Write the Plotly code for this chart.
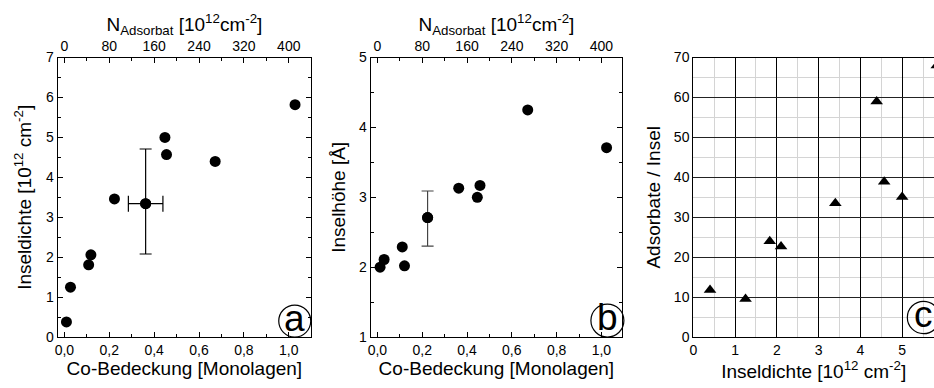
import plotly.graph_objects as go

# ---------------- data ----------------
# panel a: island density vs Co coverage
cov_a = [0.009, 0.027, 0.108, 0.118, 0.223, 0.362, 0.448, 0.455, 0.672, 1.028]
dens_a = [0.38, 1.25, 1.81, 2.06, 3.46, 3.34, 5.0, 4.57, 4.40, 5.82]
err_a_x = [None, None, None, None, None, 0.077, None, None, None, None]
err_a_yp = [None, None, None, None, None, 1.37, None, None, None, None]
err_a_ym = [None, None, None, None, None, 1.26, None, None, None, None]

# panel b: island height vs Co coverage
cov_b = [0.012, 0.030, 0.111, 0.121, 0.224, 0.363, 0.446, 0.458, 0.671, 1.023]
height_b = [2.00, 2.11, 2.29, 2.02, 2.71, 3.13, 3.00, 3.17, 4.25, 3.71]
err_b_yp = [None, None, None, None, 0.38, None, None, None, None, None]
err_b_ym = [None, None, None, None, 0.41, None, None, None, None, None]

# panel c: adsorbates per island vs island density
dens_c = [0.40, 1.25, 1.83, 2.10, 3.40, 4.39, 4.57, 5.00, 5.83]
per_island_c = [11.8, 9.5, 24.0, 22.7, 33.5, 59.0, 38.9, 35.1, 68.0]

# top axis conversion: 1 monolayer = 400e12 cm^-2
ML_TO_N = 400

bottom_ticks = [0, 0.2, 0.4, 0.6, 0.8, 1.0]
top_ticks = [0, 80, 160, 240, 320, 400]
panel_letters = ["a", "b", "c"]

FONT = "Arial, Liberation Sans, sans-serif"
W, H = 934, 388

fig = go.Figure()

def pick(vals, idx):
    return [vals[i] for i in idx]

# ---------- traces ----------
# panel a
fig.add_trace(go.Scatter(
    x=cov_a, y=dens_a, mode="markers", xaxis="x", yaxis="y",
    marker=dict(symbol="circle", size=11, color="black"), showlegend=False))
ia = [i for i, e in enumerate(err_a_yp) if e is not None]
fig.add_trace(go.Scatter(
    x=pick(cov_a, ia), y=pick(dens_a, ia), mode="markers", xaxis="x", yaxis="y",
    marker=dict(symbol="circle", size=11, color="black"),
    error_x=dict(type="data", array=pick(err_a_x, ia), color="black", thickness=1.2, width=8),
    error_y=dict(type="data", array=pick(err_a_yp, ia), arrayminus=pick(err_a_ym, ia),
                 symmetric=False, color="black", thickness=1.2, width=6),
    showlegend=False))
fig.add_trace(go.Scatter(
    x=[c * ML_TO_N for c in cov_a], y=dens_a, mode="markers", xaxis="x2", yaxis="y",
    marker=dict(opacity=0), hoverinfo="skip", showlegend=False))

# panel b
fig.add_trace(go.Scatter(
    x=cov_b, y=height_b, mode="markers", xaxis="x3", yaxis="y2",
    marker=dict(symbol="circle", size=11, color="black"), showlegend=False))
ib = [i for i, e in enumerate(err_b_yp) if e is not None]
fig.add_trace(go.Scatter(
    x=pick(cov_b, ib), y=pick(height_b, ib), mode="markers", xaxis="x3", yaxis="y2",
    marker=dict(symbol="circle", size=11, color="black"),
    error_y=dict(type="data", array=pick(err_b_yp, ib), arrayminus=pick(err_b_ym, ib),
                 symmetric=False, color="#444", thickness=1.2, width=6),
    showlegend=False))
fig.add_trace(go.Scatter(
    x=[c * ML_TO_N for c in cov_b], y=height_b, mode="markers", xaxis="x4", yaxis="y2",
    marker=dict(opacity=0), hoverinfo="skip", showlegend=False))

# panel c
fig.add_trace(go.Scatter(
    x=dens_c, y=per_island_c, mode="markers", xaxis="x5", yaxis="y3",
    marker=dict(symbol="triangle-up", size=11, color="black"),
    cliponaxis=True, showlegend=False))

# ---------- axes ----------
ydom = [1 - 343.2 / H, 1 - 51.7 / H]
dom_a = [54 / W, 308.3 / W]
dom_b = [368.3 / W, 620.7 / W]
dom_c = [692.3 / W, 1.0]

tickfont = dict(family=FONT, size=14, color="black")
titlefont = dict(family=FONT, size=19, color="black")

def bottom_axis(dom, rng, anchor):
    return dict(domain=dom, range=rng, anchor=anchor, side="bottom",
                tickvals=bottom_ticks, tickformat=".1f", ticks="inside", ticklen=5,
                tickcolor="black", tickwidth=1,
                minor=dict(dtick=0.1, tick0=0, ticks="inside", ticklen=3, tickcolor="black"),
                showline=True, linecolor="black", linewidth=1.2, mirror=False,
                showgrid=False, zeroline=False, tickfont=tickfont,
                title=dict(text="Co-Bedeckung [Monolagen]", font=titlefont, standoff=3))

def top_axis(dom, rng, anchor, over):
    return dict(domain=dom, range=rng, anchor=anchor, overlaying=over, side="top",
                tickvals=top_ticks, ticks="inside", ticklen=5, tickcolor="black",
                minor=dict(dtick=40, tick0=0, ticks="inside", ticklen=3, tickcolor="black"),
                showline=True, linecolor="black", linewidth=1.2,
                showgrid=False, zeroline=False, tickfont=tickfont,
                title=dict(text="N<sub>Adsorbat</sub> [10<sup>12</sup>cm<sup>-2</sup>]",
                           font=titlefont, standoff=1))

rng_a = [-0.0297, 1.099]
rng_b = [-0.0298, 1.092]

fig.update_layout(
    xaxis=bottom_axis(dom_a, rng_a, "y"),
    xaxis2=top_axis(dom_a, [r * ML_TO_N for r in rng_a], "y", "x"),
    yaxis=dict(domain=ydom, range=[0, 7], anchor="x", dtick=1, ticks="inside", ticklen=5,
               tickcolor="black",
               minor=dict(dtick=0.5, ticks="inside", ticklen=3, tickcolor="black"),
               showline=True, linecolor="black", linewidth=1.2, mirror="ticks",
               showgrid=False, zeroline=False, tickfont=tickfont,
               title=dict(text="Inseldichte [10<sup>12</sup> cm<sup>-2</sup>]",
                          font=titlefont, standoff=9)),
    xaxis3=bottom_axis(dom_b, rng_b, "y2"),
    xaxis4=top_axis(dom_b, [r * ML_TO_N for r in rng_b], "y2", "x3"),
    yaxis2=dict(domain=ydom, range=[1, 5], anchor="x3", dtick=1, ticks="inside", ticklen=5,
                tickcolor="black",
                minor=dict(dtick=0.5, ticks="inside", ticklen=3, tickcolor="black"),
                showline=True, linecolor="black", linewidth=1.2, mirror="ticks",
                showgrid=False, zeroline=False, tickfont=tickfont,
                title=dict(text="Inselhöhe [Å]", font=titlefont, standoff=8)),
    xaxis5=dict(domain=dom_c, range=[0, (934 - 692.3) / 41.94], anchor="y3",
                dtick=1, ticks="", showline=True, linecolor="black", linewidth=1.2,
                mirror=True, showgrid=True, gridcolor="black", gridwidth=1,
                minor=dict(dtick=0.5, showgrid=True, gridcolor="#d4d4d4", gridwidth=1),
                zeroline=False, tickfont=tickfont,
                title=dict(text="Inseldichte [10<sup>12</sup> cm<sup>-2</sup>]",
                           font=titlefont, standoff=1)),
    yaxis3=dict(domain=ydom, range=[0, 70], anchor="x5", dtick=10, ticks="",
                showline=True, linecolor="black", linewidth=1.2, mirror=False,
                showgrid=True, gridcolor="#222", gridwidth=1,
                minor=dict(dtick=5, showgrid=True, gridcolor="#d4d4d4", gridwidth=1),
                zeroline=False, tickfont=tickfont,
                title=dict(text="Adsorbate / Insel", font=titlefont, standoff=8)),
    width=W, height=H, margin=dict(l=0, r=0, t=0, b=0),
    paper_bgcolor="white", plot_bgcolor="white",
    separators=",.", showlegend=False,
    font=dict(family=FONT, color="black"),
)

# ---------- circled panel letters ----------
letter_pos = [("x", "y", dom_a, (292, 326.5), 16),
              ("x3", "y2", dom_b, (606, 326), 16.5),
              ("x5", "y3", dom_c, (923.5, 322.8), 16.2)]
for letter, (xa, ya, dom, (cx, cy), r) in zip(panel_letters, letter_pos):
    x0, x1 = dom[0] * W, dom[1] * W
    xd = (cx - x0) / (x1 - x0)
    yd = (343.2 - cy) / (343.2 - 51.7)
    fig.add_shape(type="circle", xref=f"{xa} domain", yref=f"{ya} domain",
                  xsizemode="pixel", ysizemode="pixel", xanchor=xd, yanchor=yd,
                  x0=-r, x1=r, y0=-r, y1=r, line=dict(color="black", width=1.2))
    fig.add_annotation(text=letter, xref=f"{xa} domain", yref=f"{ya} domain",
                       x=xd, y=yd, showarrow=False, xanchor="center", yanchor="middle",
                       font=dict(family=FONT, size=37, color="black"), yshift=3)

fig.write_html("out.html")
